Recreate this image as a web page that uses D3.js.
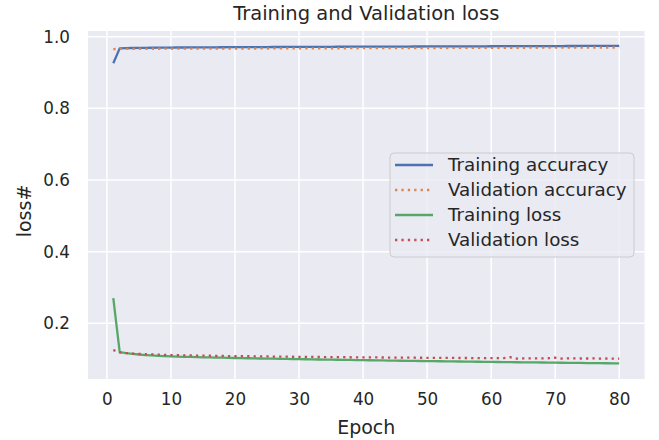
<!DOCTYPE html>
<html><head><meta charset="utf-8">
<script src="https://cdn.jsdelivr.net/npm/d3@7"></script>
<style>
html,body{margin:0;padding:0;background:#fff;}
svg{display:block;font-family:"DejaVu Sans",sans-serif;}
</style></head>
<body><svg id="c" width="659" height="440"></svg>
<script>
const epochs = d3.range(1, 81);
const trainAcc = [0.9260,0.9676,0.9682,0.9686,0.9689,0.9691,0.9693,0.9695,0.9696,0.9698,
0.9699,0.9700,0.9701,0.9702,0.9703,0.9704,0.9705,0.9706,0.9707,0.9708,
0.9709,0.9710,0.9710,0.9711,0.9712,0.9713,0.9713,0.9714,0.9715,0.9716,
0.9716,0.9717,0.9718,0.9718,0.9719,0.9720,0.9720,0.9721,0.9721,0.9722,
0.9723,0.9723,0.9724,0.9724,0.9725,0.9726,0.9726,0.9727,0.9727,0.9728,
0.9729,0.9729,0.9730,0.9730,0.9731,0.9732,0.9732,0.9733,0.9733,0.9734,
0.9735,0.9735,0.9736,0.9736,0.9737,0.9738,0.9738,0.9739,0.9739,0.9740,
0.9740,0.9741,0.9741,0.9742,0.9742,0.9743,0.9743,0.9744,0.9744,0.9745];
const valAcc = [0.9656,0.9660,0.9662,0.9661,0.9664,0.9663,0.9665,0.9664,0.9666,0.9665,
0.9667,0.9666,0.9668,0.9667,0.9669,0.9668,0.9670,0.9669,0.9670,0.9671,
0.9670,0.9672,0.9671,0.9673,0.9672,0.9674,0.9673,0.9675,0.9674,0.9676,
0.9675,0.9677,0.9676,0.9678,0.9677,0.9679,0.9678,0.9680,0.9679,0.9681,
0.9680,0.9682,0.9681,0.9683,0.9682,0.9684,0.9683,0.9685,0.9684,0.9686,
0.9685,0.9687,0.9686,0.9688,0.9687,0.9689,0.9688,0.9690,0.9689,0.9691,
0.9690,0.9692,0.9691,0.9693,0.9692,0.9694,0.9693,0.9695,0.9694,0.9696,
0.9695,0.9697,0.9696,0.9698,0.9697,0.9699,0.9698,0.9700,0.9699,0.9701];
const trainLoss = [0.2700,0.1195,0.1165,0.1145,0.1128,0.1113,0.1101,0.1091,0.1083,0.1076,
0.1070,0.1064,0.1059,0.1054,0.1050,0.1046,0.1042,0.1038,0.1034,0.1030,
0.1027,0.1024,0.1020,0.1017,0.1014,0.1011,0.1008,0.1005,0.1001,0.0998,
0.0995,0.0992,0.0989,0.0986,0.0983,0.0981,0.0978,0.0976,0.0973,0.0970,
0.0967,0.0965,0.0962,0.0959,0.0957,0.0954,0.0951,0.0949,0.0946,0.0943,
0.0941,0.0939,0.0936,0.0934,0.0932,0.0930,0.0927,0.0925,0.0923,0.0920,
0.0918,0.0916,0.0914,0.0912,0.0910,0.0908,0.0906,0.0904,0.0902,0.0900,
0.0898,0.0896,0.0894,0.0892,0.0890,0.0888,0.0886,0.0884,0.0882,0.0880];
const valLoss = [0.1254,0.1185,0.1168,0.1155,0.1145,0.1136,0.1129,0.1123,0.1118,0.1113,
0.1109,0.1106,0.1102,0.1099,0.1096,0.1094,0.1091,0.1088,0.1085,0.1083,
0.1081,0.1079,0.1077,0.1075,0.1073,0.1071,0.1069,0.1067,0.1065,0.1063,
0.1061,0.1060,0.1058,0.1057,0.1055,0.1054,0.1052,0.1051,0.1049,0.1048,
0.1047,0.1046,0.1044,0.1043,0.1042,0.1041,0.1040,0.1038,0.1037,0.1036,
0.1035,0.1034,0.1033,0.1032,0.1031,0.1030,0.1029,0.1028,0.1027,0.1026,
0.1025,0.1027,0.1052,0.1012,0.1018,0.1022,0.1020,0.1019,0.1024,0.1040,
0.1015,0.1020,0.1018,0.1017,0.1016,0.1019,0.1014,0.1016,0.1013,0.1015];
const seriesNames = ["Training accuracy","Validation accuracy","Training loss","Validation loss"];
const xTicks = [0,10,20,30,40,50,60,70,80];
const yTicks = [0.2,0.4,0.6,0.8,1.0];
const xDomain = [-2.95, 83.95];
const yDomain = [0.0444, 1.016];

const series = [
  {name: seriesNames[0], values: trainAcc, color: "#4c72b0", dotted: false},
  {name: seriesNames[1], values: valAcc, color: "#dd8452", dotted: true},
  {name: seriesNames[2], values: trainLoss, color: "#55a868", dotted: false},
  {name: seriesNames[3], values: valLoss, color: "#c44e52", dotted: true}
];

const svg = d3.select("#c");
const L = 88, R = 644.5, T = 31, B = 379;
const x = d3.scaleLinear().domain(xDomain).range([L, R]);
const y = d3.scaleLinear().domain(yDomain).range([B, T]);
const txt = "#262626";

svg.append("rect").attr("x", L).attr("y", T).attr("width", R - L).attr("height", B - T).attr("fill", "#eaeaf2");

// grid
const g = svg.append("g");
g.selectAll(".vx").data(xTicks).join("line")
  .attr("x1", d => x(d)).attr("x2", d => x(d)).attr("y1", T).attr("y2", B)
  .attr("stroke", "#fff").attr("stroke-width", 1.5);
g.selectAll(".hy").data(yTicks).join("line")
  .attr("y1", d => y(d)).attr("y2", d => y(d)).attr("x1", L).attr("x2", R)
  .attr("stroke", "#fff").attr("stroke-width", 1.5);

// axes via d3
const xAxis = svg.append("g").attr("transform", `translate(0,${B})`)
  .call(d3.axisBottom(x).tickValues(xTicks).tickSize(0).tickPadding(14).tickFormat(d3.format("d")));
const yAxis = svg.append("g").attr("transform", `translate(${L},0)`)
  .call(d3.axisLeft(y).tickValues(yTicks).tickSize(0).tickPadding(18).tickFormat(d3.format(".1f")));
[xAxis, yAxis].forEach(a => {
  a.select(".domain").remove();
  a.selectAll("text").attr("fill", txt).style("font-size", "16.8px").style("font-family", "DejaVu Sans");
});

// lines
const line = d3.line().x((d, i) => x(epochs[i])).y(d => y(d));
svg.append("g").selectAll("path").data(series).join("path")
  .attr("d", d => line(d.values))
  .attr("fill", "none").attr("stroke", d => d.color)
  .attr("stroke-width", 2.3)
  .attr("stroke-dasharray", d => d.dotted ? "2.3,4.1" : null)
  .attr("stroke-linejoin", "round");

// labels
svg.append("text").attr("x", (L + R) / 2).attr("y", 20).attr("text-anchor", "middle")
  .attr("fill", txt).style("font-size", "19.5px").text("Training and Validation loss");
svg.append("text").attr("x", (L + R) / 2).attr("y", 434).attr("text-anchor", "middle")
  .attr("fill", txt).style("font-size", "19px").text("Epoch");
svg.append("text").attr("transform", `translate(31,${(T + B) / 2 + 6}) rotate(-90)`).attr("text-anchor", "middle")
  .attr("fill", txt).style("font-size", "19px").text("loss#");

// legend
const lg = svg.append("g");
lg.append("rect").attr("x", 390).attr("y", 153).attr("width", 244).attr("height", 104).attr("rx", 4)
  .attr("fill", "#eaeaf2").attr("fill-opacity", 0.8).attr("stroke", "#cccccc").attr("stroke-width", 1);
const rows = lg.selectAll(".row").data(series).join("g")
  .attr("transform", (d, i) => `translate(0,${165 + i * 25})`);
rows.append("line").attr("x1", 395).attr("x2", 433).attr("y1", 0).attr("y2", 0)
  .attr("stroke", d => d.color).attr("stroke-width", 2.3)
  .attr("stroke-dasharray", d => d.dotted ? "2.3,4.1" : null);
rows.append("text").attr("x", 448).attr("y", 0).attr("dy", "0.35em")
  .attr("fill", txt).style("font-size", "18.3px").text(d => d.name);
</script></body></html>
